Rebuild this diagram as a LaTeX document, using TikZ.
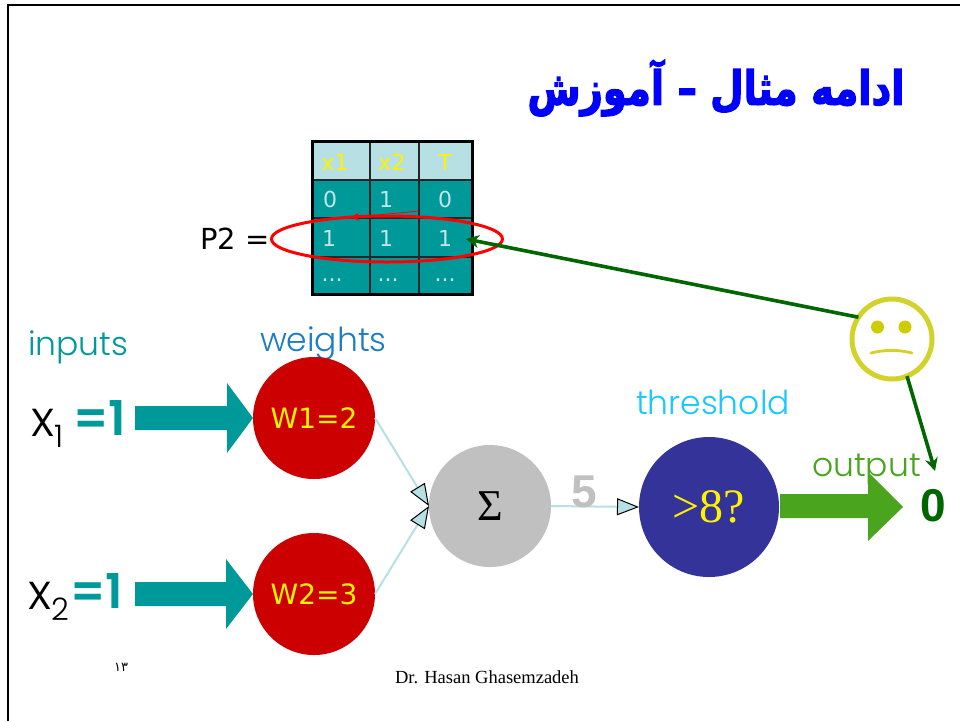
\documentclass[tikz,border=0pt]{standalone}
\usepackage{fontspec}
\setmainfont{Liberation Serif}
\newfontfamily\arabicfont[Script=Arabic]{DejaVu Sans}
\newfontfamily\arabictitle[Script=Arabic,FakeBold=3]{DejaVu Sans Bold}
\newfontfamily\geofont{Poppins Light}
\newfontfamily\geobold{Poppins SemiBold}
\newfontfamily\tahomafont{DejaVu Sans}
\newfontfamily\arialfont{Liberation Sans}
\TeXXeTstate=1
\usetikzlibrary{arrows.meta}
\definecolor{teal}{HTML}{009999}
\definecolor{lightb}{HTML}{B7E0E4}
\definecolor{redc}{HTML}{CC0000}
\definecolor{grn}{HTML}{4AA41E}
\definecolor{dgrn}{HTML}{006600}
\definecolor{navy}{HTML}{333399}
\definecolor{skyb}{HTML}{19C8FF}
\definecolor{wblue}{HTML}{1C7CC4}
\definecolor{smile}{HTML}{D2D22A}
\definecolor{smiledark}{HTML}{CCCC00}
\definecolor{graylab}{HTML}{C0C0C0}
\tikzset{
  x=1pt,y=1pt,
  every node/.style={inner sep=0pt,outer sep=0pt},
  neuron/.style={circle,minimum size=122pt},
  wlabel/.style={font=\tahomafont\fontsize{28}{28}\selectfont,text=yellow},
  caption/.style={font=\geofont\fontsize{33}{33}\selectfont,anchor=base west},
  cellhead/.style={font=\tahomafont\fontsize{22}{22}\selectfont,text=yellow},
  celldata/.style={font=\tahomafont\fontsize{22}{22}\selectfont,text=lightb!85!white},
  weightline/.style={draw=lightb,line width=2pt,-{Triangle[length=22pt,width=17pt,line width=1pt,color=black,fill=lightb]}},
  pointer/.style={draw=dgrn,line width=3.6pt,-{Stealth[length=13pt,width=13pt]}},
  inputval/.style={font=\geofont\fontsize{50}{50}\selectfont,anchor=base west},
  inputnum/.style={font=\geobold\fontsize{48}{48}\selectfont,anchor=base west,text=teal}
}
\begin{document}
\begin{tikzpicture}
\useasboundingbox (0,0) rectangle (960,-721);
\fill[white] (0,0) rectangle (960,-721);
% frame
\draw[black,line width=2.5pt] (8,-721) -- (8,-5) -- (960,-5);

% title
\node[font=\arabictitle\fontsize{47}{47}\selectfont,text=blue] (title) at (716,-88) {\scalebox{0.82}[1]{\beginR ادامه مثال – آموزش\endR}};

% table
\fill[lightb] (312,-141) rectangle (473,-180);
\fill[teal] (312,-180) rectangle (473,-295);
\draw[black!85,line width=1.2pt] (370,-141) -- (370,-295) (419,-141) -- (419,-295)
   (312,-180) -- (473,-180) (312,-218) -- (473,-218) (312,-257) -- (473,-257);
\draw[black,line width=2.6pt] (312.5,-141.5) rectangle (472.5,-294.5);
\node[cellhead] (h1) at (335,-162) {x1};
\node[cellhead] (h2) at (392,-162) {x2};
\node[cellhead] (h3) at (445,-162) {T};
\node[celldata] (a1) at (330,-199) {0};
\node[celldata] (a2) at (386,-199) {1};
\node[celldata] (a3) at (445,-199) {0};
\node[celldata] (b1) at (329,-238) {1};
\node[celldata] (b2) at (386,-238) {1};
\node[celldata] (b3) at (445,-238) {1};
\node[celldata] (c1) at (332,-280) {...};
\node[celldata] (c2) at (388,-280) {...};
\node[celldata] (c3) at (445,-280) {...};
\node[font=\tahomafont\fontsize{29}{29}\selectfont,anchor=base west] (p2) at (200,-249) {P2 =};

% red ellipse and its small arrow
\draw[red,line width=3pt] (387,-239) ellipse [x radius=115.5, y radius=23];
\coordinate (ra) at (419,-211);
\coordinate (rb) at (351,-217.5);
\draw[red,line width=0.8pt,-{Stealth[length=8pt,width=8pt]}] (ra) -- (rb);

% captions
\node[caption,text=teal] (inputs) at (28,-355) {inputs};
\node[caption,text=wblue] (weights) at (260,-351) {weights};
\node[caption,text=skyb] (threshold) at (636,-414) {threshold};
\node[caption,text=grn] (output) at (812,-476) {output};

% input labels
\node[inputval] (x1) at (31,-436) {x\raisebox{-11pt}{\fontsize{31}{31}\selectfont 1}};
\node[inputnum] (v1) at (73,-435) {=1};
\node[inputval] (x2) at (28,-609) {x\raisebox{-11pt}{\fontsize{31}{31}\selectfont 2}};
\node[inputnum] (v2) at (70,-608) {=1};

% block arrows
\fill[teal] (135,-406) -- (227,-406) -- (227,-383) -- (253,-418) -- (227,-453) -- (227,-430) -- (135,-430) -- cycle;
\fill[teal] (135,-582) -- (226,-582) -- (226,-559) -- (253,-594) -- (226,-629) -- (226,-606) -- (135,-606) -- cycle;
\fill[grn] (780,-494) -- (868,-494) -- (868,-472) -- (903,-507) -- (868,-541) -- (868,-518) -- (780,-518) -- cycle;

% neurons
\node[neuron,fill=redc,wlabel] (w1) at (314,-418) {W1=2};
\node[neuron,fill=redc,wlabel] (w2) at (314,-594) {W2=3};
\node[neuron,fill=graylab,font=\fontsize{44}{44}\selectfont] (sum) at (490,-506) {Σ};
\node[circle,minimum size=140pt,fill=navy,text=yellow,font=\fontsize{48}{48}\selectfont] (thr) at (709,-507) {>8?};

\draw[weightline] (w1.east) -- (sum.west);
\draw[weightline] (w2.east) -- (sum.west);
\draw[weightline] (sum.east) -- (thr.west);
\node[font=\arialfont\bfseries\fontsize{46}{46}\selectfont,text=graylab] (five) at (584,-492) {5};

% result
\node[font=\arialfont\bfseries\fontsize{46}{46}\selectfont,text=dgrn] (zero) at (933,-506) {0};

% smiley
\node[circle,minimum size=80pt,draw=smile,line width=5pt] (face) at (892,-339) {};
\fill[smiledark] (877.5,-327) circle (6.5);
\fill[smiledark] (905,-327) circle (6.5);
\draw[smile,line width=2.8pt,line cap=round] (871,-353) .. controls (885,-349.5) and (898,-349.5) .. (912,-353);

% pointers
\coordinate (tgt1) at (466,-239);
\coordinate (tgt2) at (935,-471);
\draw[pointer] (face.147) -- (tgt1);
\draw[pointer] (face.-68) -- (tgt2);

% footer
\node[font=\arabicfont\fontsize{13}{13}\selectfont] (num) at (121,-667) {\beginR ۱۳\endR};
\node[font=\fontsize{18.5}{18.5}\selectfont] (foot) at (487,-677) {Dr. Hasan Ghasemzadeh};
\end{tikzpicture}
\end{document}
